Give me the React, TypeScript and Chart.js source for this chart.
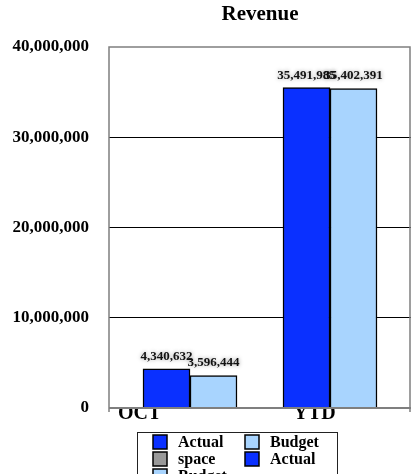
import { useEffect, useRef } from "react";
import { Chart, registerables } from "chart.js";

Chart.register(...registerables);

// Revenue figures per period
const categories = ["OCT", "YTD"];
const actualValues = [4340632, 35491985];
const budgetValues = [3596444, 35402391];
const yTickValues = [0, 10000000, 20000000, 30000000, 40000000];
// where each period name sits along the x scale (index units)
const categoryLabelAt = [-0.36, 0.89];
const legendLabels = ["Actual", "Budget", "space", "Actual", "Budget"];

const SERIF = '"Liberation Serif", "Times New Roman", serif';
const BLUE = "#0a30ff";
const LIGHT_BLUE = "#a8d4fe";
const GRAY = "#999999";
const legendSwatches = [BLUE, LIGHT_BLUE, GRAY, BLUE, LIGHT_BLUE];

const fmt = (v: number) => v.toLocaleString("en-US");

const framePlugin = {
  id: "frame",
  beforeDatasetsDraw(chart: any) {
    const { ctx, chartArea: a } = chart;
    ctx.save();
    ctx.strokeStyle = "#7f7f7f";
    ctx.lineWidth = 1.5;
    ctx.beginPath();
    ctx.moveTo(a.left, a.bottom + 4);
    ctx.lineTo(a.left, a.top);
    ctx.lineTo(a.right - 1, a.top);
    ctx.lineTo(a.right - 1, a.bottom + 4);
    ctx.stroke();
    ctx.restore();
  },
  afterDatasetsDraw(chart: any) {
    const { ctx, chartArea: a } = chart;
    ctx.save();
    ctx.strokeStyle = "#7f7f7f";
    ctx.lineWidth = 2;
    ctx.beginPath();
    ctx.moveTo(a.left, a.bottom);
    ctx.lineTo(a.right, a.bottom);
    ctx.stroke();
    ctx.restore();
  },
};

const valueLabelPlugin = {
  id: "valueLabels",
  afterDatasetsDraw(chart: any) {
    const ctx = chart.ctx;
    ctx.save();
    ctx.font = `bold 13px ${SERIF}`;
    ctx.textAlign = "center";
    ctx.textBaseline = "middle";
    ctx.shadowColor = "rgba(0,0,0,0.4)";
    ctx.shadowBlur = 4;
    chart.data.datasets.forEach((ds: any, di: number) => {
      chart.getDatasetMeta(di).data.forEach((bar: any, i: number) => {
        ctx.fillStyle = "#111";
        ctx.fillText(fmt(ds.data[i].y), bar.x, bar.y - 12.5);
      });
    });
    ctx.restore();
  },
};

const boxLegendPlugin = {
  id: "boxLegend",
  afterDraw(chart: any) {
    const ctx = chart.ctx;
    const left = 137;
    const top = 432;
    const width = 200;
    const rowH = 17;
    const colX = [153, 245];
    ctx.save();
    ctx.fillStyle = "#fff";
    ctx.fillRect(left, top, width, 80);
    ctx.strokeStyle = "#222";
    ctx.lineWidth = 1;
    ctx.strokeRect(left + 0.5, top + 0.5, width, 80);
    ctx.font = `bold 16px ${SERIF}`;
    ctx.textBaseline = "middle";
    ctx.textAlign = "left";
    legendLabels.forEach((label, i) => {
      const col = i % 2;
      const row = Math.floor(i / 2);
      const cy = top + 10 + row * rowH;
      const x = colX[col];
      ctx.fillStyle = legendSwatches[i];
      ctx.fillRect(x, cy - 7, 14, 14);
      ctx.strokeStyle = "#000";
      ctx.lineWidth = 1.5;
      ctx.strokeRect(x, cy - 7, 14, 14);
      ctx.fillStyle = "#000";
      ctx.fillText(label, x + 25, cy + 1);
    });
    ctx.restore();
  },
};

export default function App() {
  const ref = useRef<HTMLCanvasElement>(null);

  useEffect(() => {
    if (!ref.current) return;
    const chart = new Chart(ref.current, {
      type: "bar",
      data: {
        datasets: [
          {
            label: "Actual",
            data: actualValues.map((v, i) => ({ x: i, y: v })),
            backgroundColor: BLUE,
            borderColor: "#000",
            borderWidth: 1.5,
            barThickness: 47,
          },
          {
            label: "Budget",
            data: budgetValues.map((v, i) => ({ x: i, y: v })),
            backgroundColor: LIGHT_BLUE,
            borderColor: "#000",
            borderWidth: 1.5,
            barThickness: 47,
          },
        ],
      },
      options: {
        responsive: false,
        animation: false,
        layout: { padding: { left: 0, right: 2, top: 0, bottom: 0 } },
        scales: {
          x: {
            type: "linear",
            offset: false,
            min: -0.5786,
            max: 1.5786,
            grid: { display: false, drawTicks: false },
            border: { display: false },
            afterBuildTicks: (s: any) => {
              s.ticks = categoryLabelAt.map((v) => ({ value: v }));
            },
            afterFit: (s: any) => {
              s.height = 66;
            },
            ticks: {
              autoSkip: false,
              maxRotation: 0,
              padding: -6,
              color: "#000",
              font: { family: SERIF, size: 20, weight: "bold" },
              callback: (_v: any, i: number) => categories[i],
            },
          },
          y: {
            min: 0,
            max: 40000000,
            afterBuildTicks: (s: any) => {
              s.ticks = yTickValues.map((v) => ({ value: v }));
            },
            afterFit: (s: any) => {
              s.width = 109;
            },
            border: { display: false },
            grid: {
              drawTicks: false,
              lineWidth: 1,
              color: (c: any) =>
                c.tick && (c.tick.value === 0 || c.tick.value === 40000000)
                  ? "rgba(0,0,0,0)"
                  : "#000",
            },
            ticks: {
              padding: 20,
              color: "#000",
              font: { family: SERIF, size: 17, weight: "bold" },
              callback: (v: any) => fmt(Number(v)),
            },
          },
        },
        plugins: {
          legend: { display: false },
          tooltip: { enabled: false },
          title: {
            display: true,
            text: "Revenue",
            fullSize: false,
            color: "#000",
            font: { family: SERIF, size: 21, weight: "bold" },
            padding: { top: 2.4, bottom: 19.4 },
          },
        },
      },
      plugins: [framePlugin, valueLabelPlugin, boxLegendPlugin],
    } as any);
    return () => chart.destroy();
  }, []);

  return (
    <div style={{ position: "fixed", left: 0, top: 0, width: 413, height: 474, background: "#fff" }}>
      <canvas ref={ref} width={413} height={474} style={{ display: "block" }} />
    </div>
  );
}
